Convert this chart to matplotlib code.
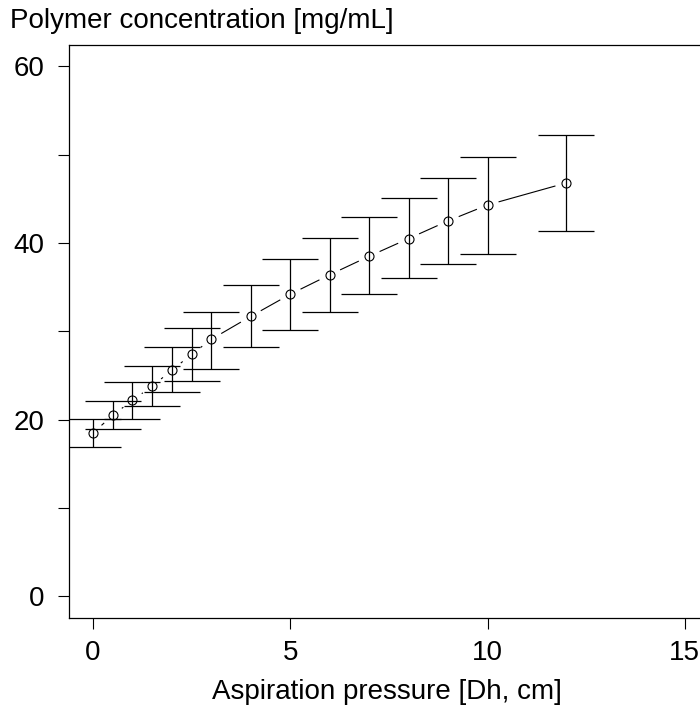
import numpy as np
import matplotlib.pyplot as plt

plt.rcParams['font.family'] = ['Liberation Sans', 'DejaVu Sans']

# pression d'aspiration et concentration
pression = [0, 0.5, 1, 1.5, 2, 2.5, 3, 4, 5, 6, 7, 8, 9, 10, 12]
conc = [18.5, 20.5, 22.2, 23.8, 25.6, 27.4, 29.1, 31.7, 34.2, 36.4, 38.5, 40.5, 42.5, 44.3, 46.8]
haut = [20.1, 22.1, 24.3, 26.1, 28.2, 30.4, 32.2, 35.2, 38.2, 40.6, 42.9, 45.1, 47.4, 49.7, 52.2]
bas = [16.9, 18.9, 20.1, 21.5, 23.1, 24.4, 25.7, 28.2, 30.2, 32.2, 34.2, 36.0, 37.6, 38.8, 41.4]

x_ticks = [0, 5, 10, 15]
y_ticks = [0, 10, 20, 30, 40, 50, 60]
y_labels = ['0', '', '20', '', '40', '', '60']

W, H = 700, 713
fig = plt.figure(figsize=(W / 100, H / 100), dpi=100)
# la zone du graphe depasse a droite (image rognee)
ax = fig.add_axes([69.3 / W, 1 - 617.7 / H, (708.5 - 69.3) / W, (617.7 - 45) / H])
ax.set_xlim(-0.6, 15.6)
ax.set_ylim(-2.4, 62.4)

x = np.array(pression, dtype=float)
y = np.array(conc)
yerr = [y - np.array(bas), np.array(haut) - y]

ax.errorbar(x, y, yerr=yerr, fmt='none', ecolor='black', elinewidth=0.9,
            capsize=20.2, capthick=0.9)
ax.plot(x, y, 'o', mfc='none', mec='black', ms=6.5, mew=0.8)

# type "b" : segments interrompus autour des points
fig.canvas.draw()
pts = ax.transData.transform(np.column_stack([x, y]))
gap = 12
for p0, p1 in zip(pts[:-1], pts[1:]):
    d = p1 - p0
    L = np.hypot(*d)
    if L <= 2 * gap:
        continue
    u = d / L
    a = ax.transData.inverted().transform(np.vstack([p0 + u * gap, p1 - u * gap]))
    ax.plot(a[:, 0], a[:, 1], color='black', lw=0.8)

ax.set_xticks(x_ticks)
ax.set_yticks(y_ticks)
ax.set_yticklabels(y_labels)
ax.tick_params(axis='both', labelsize=20, length=8, width=0.8, color='black')
ax.tick_params(axis='y', pad=10)
ax.tick_params(axis='x', pad=8)
for s in ['left', 'top', 'bottom']:
    ax.spines[s].set_linewidth(0.9)
ax.spines['right'].set_visible(False)

fig.text(10 / W, 1 - 21 / H, 'Polymer concentration [mg/mL]', fontsize=20,
         ha='left', va='center')
fig.text(387 / W, 1 - 692 / H, 'Aspiration pressure [Dh, cm]', fontsize=20,
         ha='center', va='center')

fig.savefig('out.png', dpi=100)
